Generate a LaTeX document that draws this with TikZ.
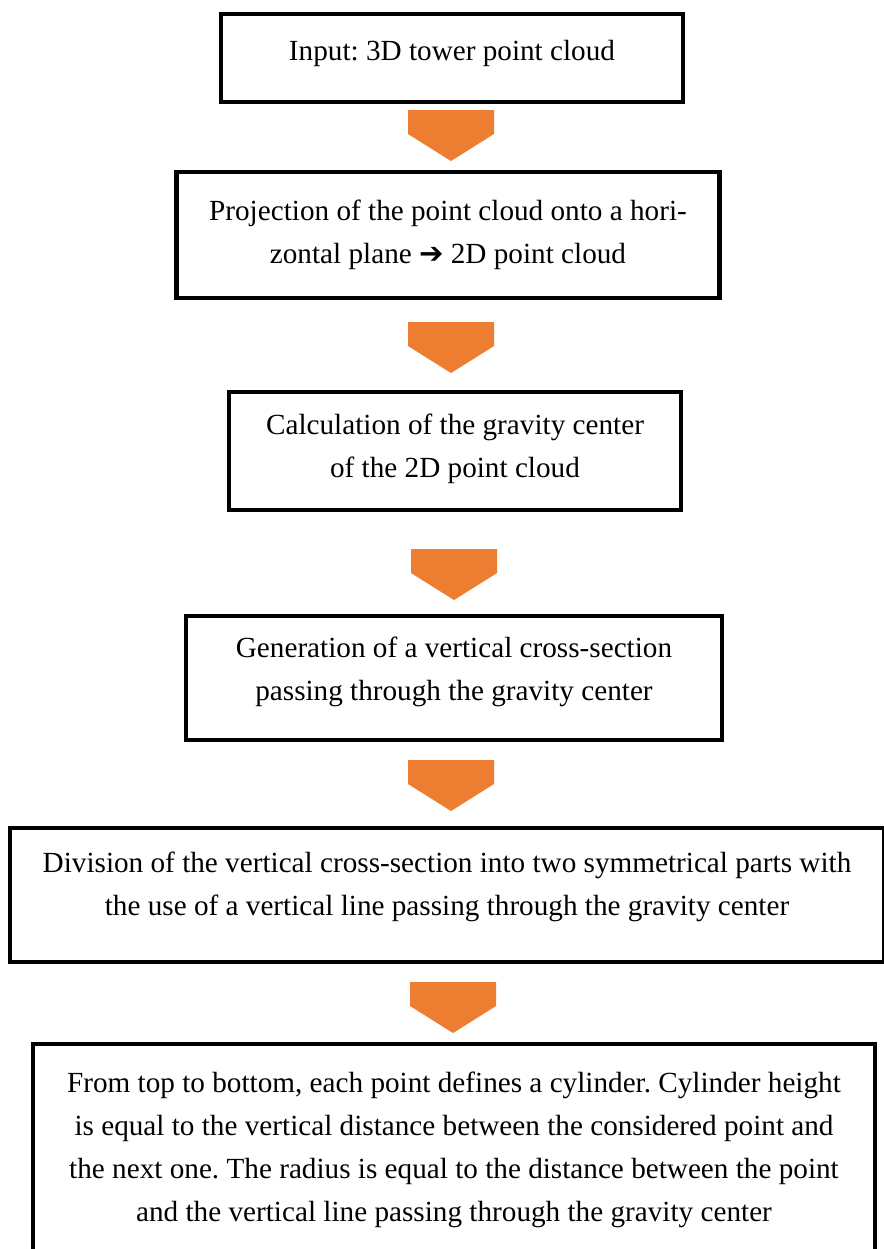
\documentclass[tikz,border=0pt]{standalone}
\usepackage{fontspec}
\setmainfont{Liberation Serif}
\newfontfamily\dingfont{DejaVu Sans}
\usepackage{xcolor}
\usepackage{tikz}
\usetikzlibrary{positioning, calc}
\frenchspacing

\definecolor{flowOrange}{HTML}{ED7D31}

\begin{document}
\begin{tikzpicture}[
    x=0.5pt, y=-0.5pt,
    box/.style={rectangle, draw=black, line width=2.2pt, fill=white, align=center, inner sep=0pt, font=\fontsize{14.6}{21.5}\selectfont},
    blockarrow/.style={fill=flowOrange, draw=none}
]
\clip (0,0) rectangle (884,1249);
\fill[white] (0,0) rectangle (884,1249);

\node[box, minimum width=231pt, minimum height=44pt, text depth=8pt] (input) at (452,58) {Input: 3D tower point cloud};
\node[box, minimum width=271.5pt, minimum height=63pt] (proj) at (448,235) {Projection of the point cloud onto a hori-\\zontal plane {\dingfont\char"2794} 2D point cloud};
\node[box, minimum width=226pt, minimum height=59pt, text depth=5pt] (grav) at (455,451) {Calculation of the gravity center\\of the 2D point cloud};
\node[box, minimum width=268pt, minimum height=62pt, text depth=9pt] (section) at (454,678) {Generation of a vertical cross-section\\passing through the gravity center};
\node[box, minimum width=437pt, minimum height=67pt, text depth=11pt] (division) at (447,895) {Division of the vertical cross-section into two symmetrical parts with\\the use of a vertical line passing through the gravity center};
\node[box, minimum width=421pt, anchor=north, inner ysep=14pt, text depth=60pt] (cylinder) at (454,1042) {From top to bottom, each point defines a cylinder. Cylinder height\\is equal to the vertical distance between the considered point and\\the next one. The radius is equal to the distance between the point\\and the vertical line passing through the gravity center};

% orange block arrows between the steps
\coordinate (a1) at (451,110);
\coordinate (a2) at (451,322);
\coordinate (a3) at (454,549);
\coordinate (a4) at (451,760);
\coordinate (a5) at (453,982);
\foreach \n in {1,...,5}
    \fill[blockarrow] (a\n) ++(-43,0) -- ++(86,0) -- ++(0,24) -- ++(-43,27) -- ++(-43,-27) -- cycle;
\end{tikzpicture}
\end{document}
